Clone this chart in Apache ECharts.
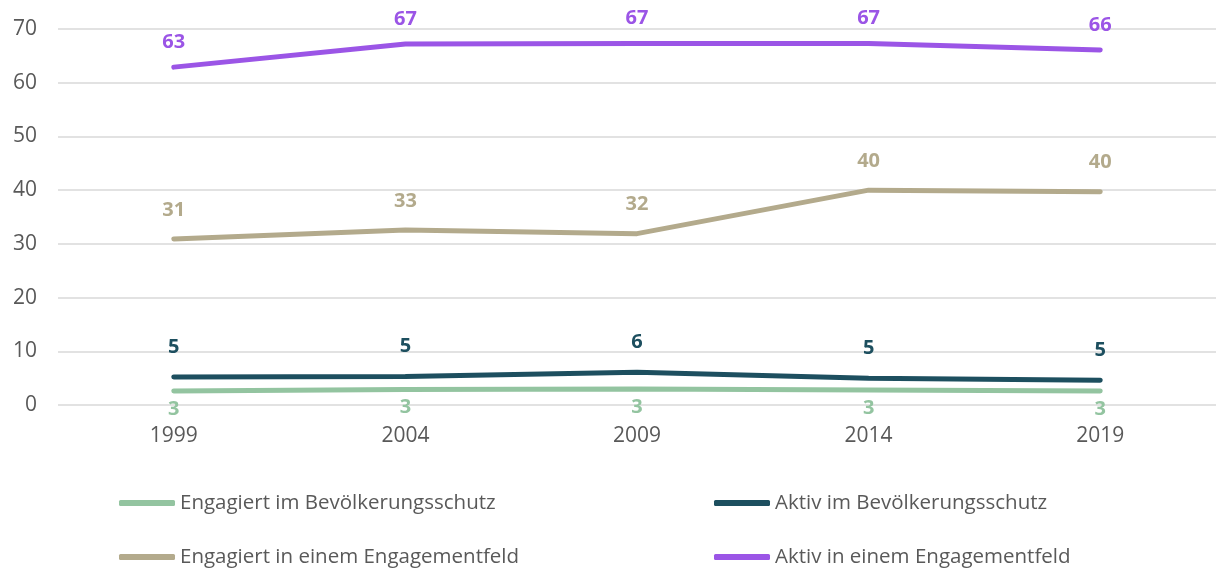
<!DOCTYPE html>
<html>
<head>
<meta charset="utf-8">
<script src="https://cdn.jsdelivr.net/npm/echarts@6/dist/echarts.min.js"></script>
<style>
  html, body { margin: 0; padding: 0; background: #fff; }
  #chart { width: 1216px; height: 571px; }
</style>
</head>
<body>
<div id="chart"></div>
<script>
const years = ['1999', '2004', '2009', '2014', '2019']
const engagiertSchutz = [2.6, 2.9, 3.0, 2.8, 2.6]
const aktivSchutz = [5.2, 5.3, 6.1, 5.0, 4.6]
const engagiertFeld = [30.9, 32.6, 31.9, 40.0, 39.7]
const aktivFeld = [62.9, 67.2, 67.3, 67.3, 66.1]

const font = '"Open Sans", "Noto Sans", sans-serif'

function lineSeries(name, data, color, pos, dist) {
  return {
    name: name,
    type: 'line',
    data: data,
    symbol: 'circle',
    symbolSize: 0,
    lineStyle: { width: 5, color: color, cap: 'round' },
    itemStyle: { color: color },
    label: {
      show: true,
      position: pos,
      distance: dist,
      color: color,
      fontFamily: font,
      fontWeight: 'bold',
      fontSize: 20,
      formatter: p => Math.round(p.value)
    }
  }
}

const legendText = { fontFamily: font, fontSize: 20.5, lineHeight: 22, color: '#595959' }

const chart = echarts.init(document.getElementById('chart'))
chart.setOption({
  animation: false,
  grid: { left: 58, right: 0, top: 29, bottom: 166 },
  legend: [{
    left: 119, top: 492, height: 79, padding: 0, orient: 'vertical', itemGap: 32,
    icon: 'roundRect', itemWidth: 56, itemHeight: 6,
    textStyle: legendText,
    data: ['Engagiert im Bevölkerungsschutz', 'Engagiert in einem Engagementfeld']
  }, {
    left: 714, top: 492, height: 79, padding: 0, orient: 'vertical', itemGap: 32,
    icon: 'roundRect', itemWidth: 56, itemHeight: 6,
    textStyle: legendText,
    data: ['Aktiv im Bevölkerungsschutz', 'Aktiv in einem Engagementfeld']
  }],
  xAxis: {
    type: 'category',
    data: years,
    axisLine: { show: false },
    axisTick: { show: false },
    axisLabel: { color: '#595959', fontFamily: font, fontSize: 21, margin: 21 }
  },
  yAxis: {
    type: 'value',
    min: 0, max: 70, interval: 10,
    axisLabel: { color: '#595959', fontFamily: font, fontSize: 21, margin: 21 },
    splitLine: { lineStyle: { color: '#d9d9d9', width: 1.5 } }
  },
  series: [
    lineSeries('Engagiert im Bevölkerungsschutz', engagiertSchutz, '#93c4a0', 'bottom', 8),
    lineSeries('Aktiv im Bevölkerungsschutz', aktivSchutz, '#1d4f5f', 'top', 20),
    lineSeries('Engagiert in einem Engagementfeld', engagiertFeld, '#b3aa8c', 'top', 19),
    lineSeries('Aktiv in einem Engagementfeld', aktivFeld, '#9b55e6', 'top', 15)
  ]
})
</script>
</body>
</html>
